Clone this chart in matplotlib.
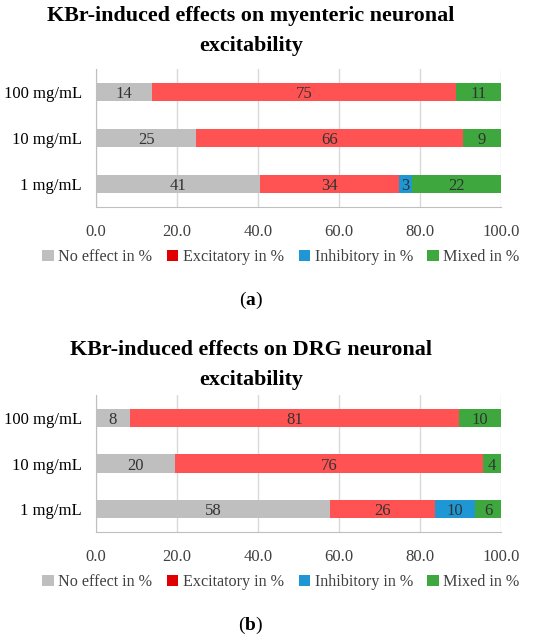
import matplotlib
matplotlib.use("Agg")
import matplotlib.pyplot as plt
from matplotlib.patches import Patch
import numpy as np

plt.rcParams['font.family'] = ['Liberation Serif', 'DejaVu Serif']
plt.rcParams['mathtext.fontset'] = 'custom'
plt.rcParams['mathtext.rm'] = 'Liberation Serif'
plt.rcParams['mathtext.bf'] = 'Liberation Serif:bold'

doses = ["1 mg/mL", "10 mg/mL", "100 mg/mL"]
categories = ["No effect in %", "Excitatory in %", "Inhibitory in %", "Mixed in %"]

myenteric_no_effect = [40.6, 24.8, 13.8]
myenteric_excitatory = [34.3, 65.8, 75.0]
myenteric_inhibitory = [3.1, 0, 0]
myenteric_mixed = [22.0, 9.4, 11.2]

drg_no_effect = [57.9, 19.6, 8.4]
drg_excitatory = [25.9, 76.0, 81.3]
drg_inhibitory = [9.8, 0, 0]
drg_mixed = [6.4, 4.4, 10.3]

xticks = [0, 20, 40, 60, 80, 100]

bar_colors = ["#bfbfbf", "#ff5353", "#1f97d4", "#3ea83e"]
legend_colors = ["#bfbfbf", "#e00000", "#1f97d4", "#3ea83e"]

W, H = 550, 639
fig = plt.figure(figsize=(W / 100, H / 100), dpi=100)


def draw_panel(top_px, bottom_px, series, title_lines, title_y, legend_y, tag, tag_y):
    ax = fig.add_axes([96 / W, 1 - bottom_px / H, 405 / W, (bottom_px - top_px) / H])
    y = np.arange(len(doses))
    left = np.zeros(len(doses))
    for vals, col in zip(series, bar_colors):
        vals = np.array(vals, dtype=float)
        ax.barh(y, vals, left=left, height=0.4, color=col, zorder=2)
        for yi, v, l in zip(y, vals, left):
            if v > 0:
                ax.text(l + v / 2, yi, f"{v:.0f}", ha='center', va='center_baseline',
                        fontsize=12, color='#333333', zorder=3)
        left += vals
    ax.set_xlim(0, 100)
    ax.set_ylim(-0.5, 2.5)
    ax.set_yticks(y)
    ax.set_yticklabels(doses, fontsize=12)
    ax.set_xticks(xticks)
    ax.set_xticklabels([f"{t:.1f}" for t in xticks], fontsize=12, color='#404040')
    ax.tick_params(axis='y', length=0, pad=10)
    ax.tick_params(axis='x', length=0, pad=12)
    ax.grid(axis='x', color='#d9d9d9', linewidth=1, zorder=0)
    for s in ['top', 'right']:
        ax.spines[s].set_visible(False)
    for s in ['left', 'bottom']:
        ax.spines[s].set_color('#bfbfbf')
    for i, line in enumerate(title_lines):
        fig.text(251 / W, 1 - (title_y + i * 30) / H, line, ha='center', va='center',
                 fontsize=15.8, fontweight='bold')
    handles = [Patch(facecolor=c, edgecolor='none') for c in legend_colors]
    fig.legend(handles, categories, loc='center', bbox_to_anchor=(281 / W, 1 - legend_y / H),
               ncol=4, frameon=False, fontsize=11.6, handlelength=0.7, handleheight=0.7,
               handletextpad=0.3, columnspacing=0.9, labelcolor='#404040')
    fig.text(251 / W, 1 - tag_y / H, r"($\mathbf{" + tag + r"}$)", ha='center', va='center',
             fontsize=14)
    return ax


draw_panel(69, 207,
           [myenteric_no_effect, myenteric_excitatory, myenteric_inhibitory, myenteric_mixed],
           ["KBr-induced effects on myenteric neuronal", "excitability"], 16, 257, "a", 300)
draw_panel(395, 532,
           [drg_no_effect, drg_excitatory, drg_inhibitory, drg_mixed],
           ["KBr-induced effects on DRG neuronal", "excitability"], 350, 582, "b", 625)

fig.savefig("out.png", dpi=100)
